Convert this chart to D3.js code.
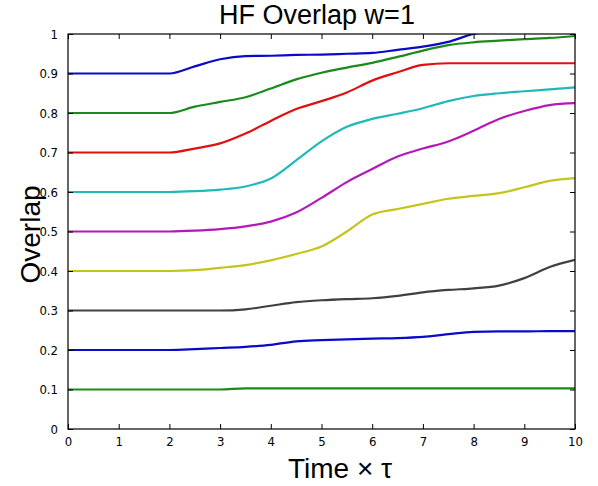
<!DOCTYPE html>
<html>
<head>
<meta charset="utf-8">
<script src="https://cdn.jsdelivr.net/npm/d3@7"></script>
<style>
  html, body { margin: 0; padding: 0; background: #fff; }
  .tick text { font-family: "Liberation Sans Narrow", "DejaVu Sans Condensed", sans-serif; font-stretch: condensed; }
</style>
</head>
<body>
<svg id="chart" width="598" height="486"></svg>
<script>
const title = "HF Overlap w=1";
const xLabel = "Time \u00d7 \u03c4";
const yLabel = "Overlap";

const times = [0,0.5,1,1.5,2,2.5,3,3.5,4,4.5,5,5.5,6,6.5,7,7.5,8,8.5,9,9.5,10];
const xTicks = [0,1,2,3,4,5,6,7,8,9,10];
const yTicks = [0,0.1,0.2,0.3,0.4,0.5,0.6,0.7,0.8,0.9,1];

const blue09    = [0.9,0.9,0.9,0.9,0.9,0.918,0.936,0.944,0.945,0.947,0.948,0.95,0.952,0.96,0.968,0.98,1.0,1.008,1.015,1.02,1.025];
const green08   = [0.8,0.8,0.8,0.8,0.8,0.816,0.828,0.84,0.862,0.885,0.902,0.915,0.927,0.942,0.958,0.972,0.979,0.983,0.987,0.99,0.995];
const red07     = [0.7,0.7,0.7,0.7,0.7,0.71,0.723,0.748,0.78,0.81,0.83,0.852,0.882,0.903,0.922,0.926,0.926,0.926,0.926,0.926,0.926];
const cyan06    = [0.6,0.6,0.6,0.6,0.6,0.602,0.606,0.614,0.634,0.68,0.728,0.765,0.785,0.798,0.812,0.83,0.843,0.85,0.855,0.86,0.865];
const magenta05 = [0.5,0.5,0.5,0.5,0.5,0.502,0.506,0.513,0.525,0.548,0.585,0.625,0.658,0.69,0.71,0.728,0.755,0.785,0.805,0.82,0.825];
const yellow04  = [0.4,0.4,0.4,0.4,0.4,0.402,0.408,0.415,0.427,0.443,0.462,0.5,0.543,0.557,0.57,0.583,0.59,0.597,0.612,0.628,0.635];
const gray03    = [0.3,0.3,0.3,0.3,0.3,0.3,0.3,0.303,0.312,0.321,0.326,0.329,0.331,0.337,0.346,0.352,0.356,0.363,0.382,0.41,0.428];
const blue02    = [0.2,0.2,0.2,0.2,0.2,0.202,0.205,0.208,0.213,0.222,0.225,0.227,0.229,0.23,0.233,0.24,0.246,0.247,0.247,0.248,0.248];
const green01   = [0.1,0.1,0.1,0.1,0.1,0.1,0.1,0.103,0.103,0.103,0.103,0.103,0.103,0.103,0.103,0.103,0.103,0.103,0.103,0.103,0.103];

const seriesValues = [blue09, green08, red07, cyan06, magenta05, yellow04, gray03, blue02, green01];
const seriesColors = ["#0a0ac8", "#1a8a1a", "#e01010", "#20b8b8", "#b418b8", "#c4c41c", "#404040", "#0a0ac8", "#1a8a1a"];

const svg = d3.select("#chart");
const margin = {left: 68, top: 34, right: 23, bottom: 57};
const W = 598, H = 486;
const x = d3.scaleLinear().domain([0, 10]).range([margin.left, W - margin.right]);
const y = d3.scaleLinear().domain([0, 1]).range([H - margin.bottom, margin.top]);

svg.append("rect").attr("width", W).attr("height", H).attr("fill", "#fff");

svg.append("defs").append("clipPath").attr("id", "clip")
  .append("rect").attr("x", x(0)).attr("y", y(1)).attr("width", x(10) - x(0)).attr("height", y(0) - y(1));

const line = d3.line().x((d, i) => x(times[i])).y(d => y(d)).curve(d3.curveMonotoneX);

const g = svg.append("g").attr("clip-path", "url(#clip)");
seriesValues.forEach((vals, k) => {
  g.append("path").attr("d", line(vals)).attr("fill", "none")
    .attr("stroke", seriesColors[k]).attr("stroke-width", 2.2).attr("stroke-linejoin", "round");
});

const tickLen = 5;
const fontTick = 13;
svg.append("g").attr("transform", `translate(0,${y(0)})`)
  .call(d3.axisBottom(x).tickValues(xTicks).tickSize(-tickLen).tickPadding(tickLen + 3).tickFormat(d3.format("d")));
svg.append("g").attr("transform", `translate(0,${y(1)})`)
  .call(d3.axisTop(x).tickValues(xTicks).tickSize(-tickLen).tickFormat(""));
svg.append("g").attr("transform", `translate(${x(0)},0)`)
  .call(d3.axisLeft(y).tickValues(yTicks).tickSize(-tickLen).tickPadding(tickLen + 5).tickFormat(d => d === 0 ? "0" : d === 1 ? "1" : d3.format(".1f")(d)));
svg.append("g").attr("transform", `translate(${x(10)},0)`)
  .call(d3.axisRight(y).tickValues(yTicks).tickSize(-tickLen).tickFormat(""));

svg.selectAll(".domain").remove();
svg.selectAll(".tick line").attr("stroke", "#000").attr("stroke-width", 1);
svg.selectAll(".tick text").attr("font-size", fontTick).attr("fill", "#000");

svg.append("rect").attr("x", x(0)).attr("y", y(1)).attr("width", x(10) - x(0)).attr("height", y(0) - y(1))
  .attr("fill", "none").attr("stroke", "#000").attr("stroke-width", 1.2);

svg.append("text").attr("x", 317).attr("y", 24).attr("text-anchor", "middle")
  .attr("font-family", "Liberation Sans, Arial, sans-serif").attr("font-size", 27).attr("fill", "#000").text(title);

svg.append("text").attr("x", 340).attr("y", 478).attr("text-anchor", "middle")
  .attr("font-family", "Liberation Sans, Arial, sans-serif").attr("font-size", 28).attr("fill", "#000").text(xLabel);

svg.append("text").attr("transform", `translate(40,${(y(0) + y(1)) / 2 + 3}) rotate(-90)`).attr("text-anchor", "middle")
  .attr("font-family", "Liberation Sans, Arial, sans-serif").attr("font-size", 28).attr("fill", "#000").text(yLabel);
</script>
</body>
</html>
